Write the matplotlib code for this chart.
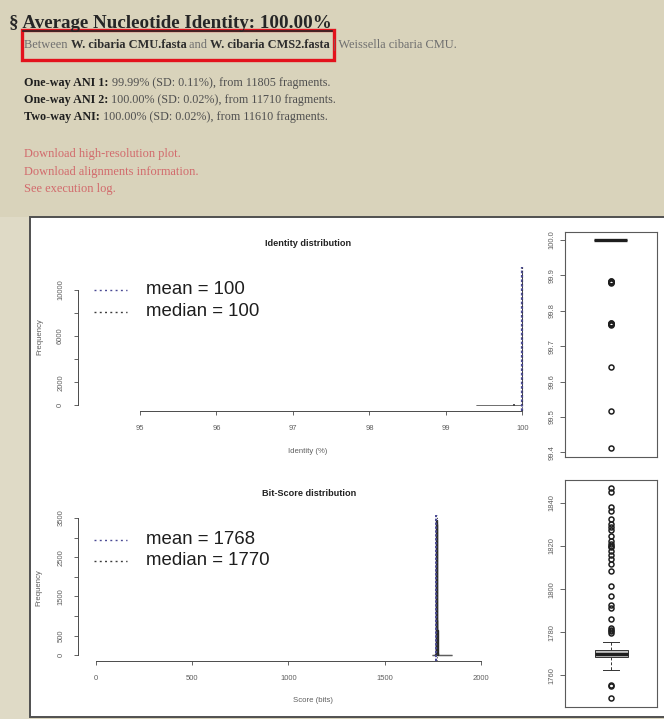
import matplotlib
matplotlib.use("Agg")
import matplotlib.pyplot as plt
import numpy as np
from matplotlib.patches import Rectangle
from matplotlib.lines import Line2D

W, H = 664, 719

# ---------------- page header text ----------------
page_title = "§ Average Nucleotide Identity: 100.00%"
genome_a = "W. cibaria CMU.fasta"
genome_b = "W. cibaria CMS2.fasta"
species = "Weissella cibaria CMU."
ani_labels = ["One-way ANI 1:", "One-way ANI 2:", "Two-way ANI:"]
ani_values = ["99.99%", "100.00%", "100.00%"]
ani_sd = ["0.11%", "0.02%", "0.02%"]
ani_fragments = [11805, 11710, 11610]
links = ["Download high-resolution plot.",
         "Download alignments information.",
         "See execution log."]

# ---------------- identity distribution ----------------
identity_bin_width = 0.01
identity_bin_start = 99.40
identity_bin_end = 100.00
identity_hit_bins = [99.41, 99.51, 99.64, 99.76, 99.88, 99.99]
identity_hit_counts = [1, 1, 1, 40, 90, 11528]
identity_mean = 100
identity_median = 100
identity_xticks = [95, 96, 97, 98, 99, 100]
identity_yticks = [0, 2000, 4000, 6000, 8000, 10000]
identity_ylabels = ["0", "2000", "", "6000", "", "10000"]

# identity boxplot (all non-100 values fall outside the zero-width box)
identity_box = dict(med=100.0, q1=100.0, q3=100.0, whislo=100.0, whishi=100.0)
identity_outliers = [99.411, 99.518, 99.642,
                     99.761, 99.762, 99.763, 99.764, 99.765, 99.766,
                     99.879, 99.880, 99.881, 99.882, 99.883, 99.884]
identity_box_ticks = [99.4, 99.5, 99.6, 99.7, 99.8, 99.9, 100.0]

# ---------------- bit-score distribution ----------------
bit_bin_width = 2
bit_bin_left = [1748, 1750, 1752, 1754, 1756, 1758, 1760, 1762, 1764, 1766,
                1768, 1770, 1772, 1774, 1776, 1778, 1780, 1782, 1784, 1786,
                1788, 1790, 1792, 1794, 1796, 1798, 1800, 1802, 1804, 1806,
                1808, 1810, 1812, 1814, 1816, 1818, 1820, 1822, 1824, 1826,
                1828, 1830, 1832, 1834, 1836, 1838, 1840, 1842, 1844, 1846]
bit_counts = [1, 0, 0, 2, 0, 0, 5, 40, 300, 2230,
              3440, 3350, 900, 640, 60, 8, 10, 6, 4, 2,
              0, 2, 1, 0, 1, 0, 1, 0, 0, 1,
              2, 3, 2, 2, 3, 4, 4, 3, 3, 3,
              2, 2, 2, 1, 2, 1, 0, 0, 2, 1]
bit_mean = 1768
bit_median = 1770
bit_xticks = [0, 500, 1000, 1500, 2000]
bit_yticks = [0, 500, 1000, 1500, 2000, 2500, 3000, 3500]
bit_ylabels = ["0", "500", "", "1500", "", "2500", "", "3500"]

bit_box = dict(med=1770.0, q1=1768.6, q3=1771.7, whislo=1762.3, whishi=1775.3)
bit_outliers = [1749.4, 1755.3, 1755.6,
                1779.5, 1780.8, 1781.2, 1781.9, 1786.2, 1791.2, 1792.8,
                1796.7, 1801.4, 1808.4, 1811.5, 1813.9, 1815.8, 1817.8,
                1819.4, 1820.2, 1820.9, 1822.5, 1824.8, 1827.2, 1828.7,
                1830.3, 1832.6, 1836.1, 1838.1, 1845.1, 1846.7]
bit_box_ticks = [1760, 1780, 1800, 1820, 1840]

# ---------------- styling ----------------
PAGE_BG = "#d9d3bb"
SERIF = ["Liberation Serif", "DejaVu Serif"]
SANS = ["Liberation Sans", "DejaVu Sans"]
AXIS_C = "#4a4a4a"
TICK_C = "#5f5f5f"
MEAN_C = "#4a4a94"
MEDIAN_C = "#3a3a3a"

plt.rcParams["font.family"] = SANS

fig = plt.figure(figsize=(W / 100, H / 100), dpi=100, facecolor=PAGE_BG)
renderer = fig.canvas.get_renderer()


def fx(px):
    return px / W


def fy(py):
    return 1 - py / H


def ax_px(left, top, right, bottom, **kw):
    return fig.add_axes([fx(left), fy(bottom), (right - left) / W, (bottom - top) / H], **kw)


def lim_from(p0, v0, p1, v1, pa, pb):
    slope = (v1 - v0) / (p1 - p0)
    return v0 + (pa - p0) * slope, v0 + (pb - p0) * slope


def text_width(s, **kw):
    t = fig.text(0, 0, s + "|", **kw)
    w = t.get_window_extent(renderer).width
    t.remove()
    bar = fig.text(0, 0, "|", **kw)
    wb = bar.get_window_extent(renderer).width
    bar.remove()
    return w - wb


def text_runs(x, y, parts, size):
    for s, weight, color in parts:
        kw = dict(fontsize=size, fontweight=weight, family=SERIF)
        fig.text(fx(x), fy(y), s, color=color, va="baseline", ha="left", **kw)
        x += text_width(s, **kw)
    return x


# left margin strip of the page is a touch lighter
fig.add_artist(Rectangle((0, 0), fx(30), fy(217), transform=fig.transFigure,
                         facecolor="#dfdac6", edgecolor="none", zorder=-1))

# ---------------- page header ----------------
TITLE_FS = 13.7
title_t = fig.text(fx(9), fy(28), page_title, fontsize=TITLE_FS, fontweight="bold",
                   family=SERIF, color="#262626", va="baseline", ha="left")
tb = title_t.get_window_extent(renderer)
sect_w = text_width("§ ", fontsize=TITLE_FS, fontweight="bold", family=SERIF)
fig.add_artist(Line2D([fx(9 + sect_w), fx(tb.x1)], [fy(31), fy(31)],
                      color="#262626", lw=1.2))

BODY = 8.9
GREY = "#6f6f6f"
DARK = "#2e2e2e"
text_runs(24, 48, [("Between ", "normal", GREY), (genome_a, "bold", DARK),
                   (" and ", "normal", GREY), (genome_b, "bold", DARK),
                   (" | " + species, "normal", GREY)], BODY)

fig.add_artist(Rectangle((fx(21.5), fy(60)), (334 - 21.5) / W, (60 - 29.5) / H,
                         transform=fig.transFigure, fill=False,
                         edgecolor="#e3121c", lw=2.4))

ANI_FS = 8.75
for i, (lab, val, sd, nfrag) in enumerate(zip(ani_labels, ani_values, ani_sd, ani_fragments)):
    text_runs(24, 86 + i * 17, [(lab + " ", "bold", "#1f1f1f"),
                                (f"{val} (SD: {sd}), from {nfrag} fragments.", "normal", "#4f4f4f")],
              ANI_FS)

for i, s in enumerate(links):
    fig.text(fx(24), fy(157 + i * 17.7), s, fontsize=BODY, family=SERIF,
             color="#d26a6c", va="baseline", ha="left")

# ---------------- plot panel ----------------
fig.add_artist(Rectangle((fx(30), fy(717)), (680 - 30) / W, (717 - 217) / H,
                         transform=fig.transFigure, facecolor="white",
                         edgecolor="#505050", lw=1.4, zorder=0))

TICK_FS = 5.5


def style_hist_axes(ax, xticks, yticks, ylabels, xb, yb):
    ax.set_facecolor("none")
    for s in ("top", "right"):
        ax.spines[s].set_visible(False)
    ax.spines["left"].set_bounds(*yb)
    ax.spines["bottom"].set_bounds(*xb)
    for s in ("left", "bottom"):
        ax.spines[s].set_color(AXIS_C)
        ax.spines[s].set_linewidth(0.7)
    ax.set_xticks(xticks)
    ax.set_xticklabels([str(v) for v in xticks])
    ax.set_yticks(yticks)
    ax.set_yticklabels(ylabels, rotation=90, va="center")
    ax.tick_params(axis="both", direction="out", length=3.0, width=0.6,
                   color=AXIS_C, labelcolor=TICK_C, labelsize=TICK_FS, pad=7)


def draw_legend(y_mean, y_median, mean_val, median_val):
    for yy, col, txt in ((y_mean, MEAN_C, f"mean = {mean_val}"),
                         (y_median, MEDIAN_C, f"median = {median_val}")):
        fig.add_artist(Line2D([fx(94), fx(127)], [fy(yy), fy(yy)], color=col,
                              lw=1.0, dashes=(1.4, 2.4)))
        fig.text(fx(146.5), fy(yy), txt, fontsize=13.4, color="#1e1e1e",
                 va="center", ha="left", family=SANS)


# ---- identity histogram ----
id_edges = np.round(np.arange(identity_bin_start, identity_bin_end, identity_bin_width), 2)
id_counts = np.zeros(len(id_edges))
for b, c in zip(identity_hit_bins, identity_hit_counts):
    id_counts[np.argmin(np.abs(id_edges - b))] = c

ax1 = ax_px(78, 266.7, 540, 410.7)
ax1.bar(id_edges, id_counts, width=identity_bin_width, align="edge",
        color="#8d8da8", edgecolor="#2a2a2a", lw=0.6)
ax1.axvline(identity_mean, color=MEAN_C, lw=1.6, ls=(0, (1.2, 0.8)))
ax1.axvline(identity_median, color=MEDIAN_C, lw=0.6, ls=(0, (1.4, 2.4)))
ax1.set_xlim(*lim_from(140, 95, 522.3, 100, 78, 540))
ymax1 = max(identity_hit_counts)
ax1.set_ylim(-0.04 * ymax1, 1.04 * ymax1)
style_hist_axes(ax1, identity_xticks, identity_yticks, identity_ylabels,
                (identity_xticks[0], identity_xticks[-1]),
                (identity_yticks[0], identity_yticks[-1]))
fig.text(fx(308), fy(244), "Identity distribution", fontsize=6.6, fontweight="bold",
         ha="center", va="center", color="#222222")
fig.text(fx(308), fy(452), "Identity (%)", fontsize=5.6, ha="center", va="center", color=TICK_C)
fig.text(fx(40), fy(337), "Frequency", fontsize=5.6, rotation=90, ha="center",
         va="center", color=TICK_C)
draw_legend(289.5, 311.5, identity_mean, identity_median)

# ---- bit-score histogram ----
ax2 = ax_px(78.3, 515, 540, 660.7)
ax2.bar(bit_bin_left, bit_counts, width=bit_bin_width, align="edge",
        color="#8d8d9a", edgecolor="#2a2a2a", lw=1.0)
ax2.axvline(bit_mean, color=MEAN_C, lw=1.4, ls=(0, (1.2, 0.8)))
ax2.axvline(bit_median, color=MEDIAN_C, lw=0.6, ls=(0, (1.4, 2.4)))
ax2.set_xlim(*lim_from(96, 0, 481, 2000, 78.3, 540))
ymax2 = max(bit_counts)
ax2.set_ylim(-0.04 * ymax2, 1.04 * ymax2)
style_hist_axes(ax2, bit_xticks, bit_yticks, bit_ylabels,
                (bit_xticks[0], bit_xticks[-1]), (bit_yticks[0], bit_yticks[-1]))
fig.text(fx(309), fy(494), "Bit-Score distribution", fontsize=6.6, fontweight="bold",
         ha="center", va="center", color="#222222")
fig.text(fx(313), fy(700), "Score (bits)", fontsize=5.6, ha="center", va="center", color=TICK_C)
fig.text(fx(38.5), fy(588), "Frequency", fontsize=5.6, rotation=90, ha="center",
         va="center", color=TICK_C)
draw_legend(539.5, 560.5, bit_mean, bit_median)


# ---- boxplots ----
def draw_box(ax, stats, fliers, ticks, fmt):
    st = dict(stats)
    st["fliers"] = fliers
    ax.bxp([st], positions=[1], widths=0.36, patch_artist=True,
           boxprops=dict(facecolor="#c4c4c4", edgecolor="#333333", lw=0.7),
           medianprops=dict(color="#1e1e1e", lw=2.4, solid_capstyle="butt"),
           whiskerprops=dict(color="#333333", lw=0.7, ls=(0, (3, 2))),
           capprops=dict(color="#333333", lw=0.7),
           flierprops=dict(marker="o", markersize=3.6, markerfacecolor="none",
                           markeredgecolor="#1e1e1e", markeredgewidth=1.1))
    vals = fliers + [stats["whislo"], stats["whishi"]]
    lo, hi = min(vals), max(vals)
    ax.set_ylim(lo - 0.04 * (hi - lo), hi + 0.04 * (hi - lo))
    ax.set_xlim(0.5, 1.5)
    ax.set_xticks([])
    ax.set_yticks(ticks)
    ax.set_yticklabels([fmt.format(t) for t in ticks], rotation=90, va="center")
    ax.tick_params(axis="y", direction="out", length=3.5, width=0.6, color=AXIS_C,
                   labelcolor=TICK_C, labelsize=TICK_FS, pad=3.5)
    for s in ax.spines.values():
        s.set_color("#5a5a5a")
        s.set_linewidth(0.8)


ax3 = ax_px(565, 231.7, 656.5, 456.7)
draw_box(ax3, identity_box, identity_outliers, identity_box_ticks, "{:.1f}")

ax4 = ax_px(565, 480, 657.3, 706.7)
draw_box(ax4, bit_box, bit_outliers, bit_box_ticks, "{:d}")

fig.savefig("out.png", dpi=100, facecolor=PAGE_BG)
